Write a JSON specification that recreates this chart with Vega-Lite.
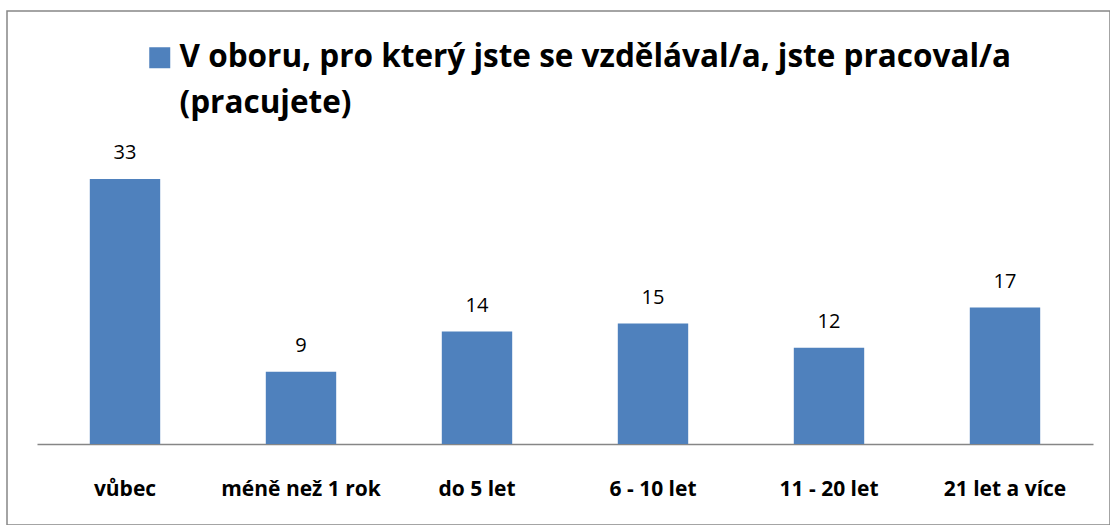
{
  "$schema": "https://vega.github.io/schema/vega-lite/v6.json",
  "width": 1103,
  "height": 514,
  "autosize": {"type": "none"},
  "padding": {"left": 7, "top": 11, "right": 0, "bottom": 0},
  "background": "white",
  "config": {
    "font": "Open Sans",
    "view": {"stroke": "#868686", "strokeWidth": 1.5},
    "style": {"guide-label": {"lineHeight": 46}}
  },
  "data": {
    "values": [
      {"category": "vůbec", "value": 33, "series": "V oboru, pro který jste se vzdělával/a, jste pracoval/a (pracujete)"},
      {"category": "méně než 1 rok", "value": 9, "series": "V oboru, pro který jste se vzdělával/a, jste pracoval/a (pracujete)"},
      {"category": "do 5 let", "value": 14, "series": "V oboru, pro který jste se vzdělával/a, jste pracoval/a (pracujete)"},
      {"category": "6 - 10 let", "value": 15, "series": "V oboru, pro který jste se vzdělával/a, jste pracoval/a (pracujete)"},
      {"category": "11 - 20 let", "value": 12, "series": "V oboru, pro který jste se vzdělával/a, jste pracoval/a (pracujete)"},
      {"category": "21 let a více", "value": 17, "series": "V oboru, pro který jste se vzdělával/a, jste pracoval/a (pracujete)"}
    ]
  },
  "encoding": {
    "x": {
      "field": "category",
      "type": "nominal",
      "sort": null,
      "scale": {"range": [30, 1086], "paddingInner": 0.6, "paddingOuter": 0.3},
      "axis": {
        "title": null,
        "orient": "bottom",
        "offset": -81,
        "domainColor": "#868686",
        "domainWidth": 1.5,
        "ticks": false,
        "grid": false,
        "labelAngle": 0,
        "labelFont": "Open Sans",
        "labelFontSize": 21,
        "labelFontWeight": "bold",
        "labelColor": "#000000",
        "labelPadding": 51,
        "labelBaseline": "alphabetic"
      }
    },
    "y": {
      "field": "value",
      "type": "quantitative",
      "scale": {"domain": [0, 35], "range": [433, 152]},
      "axis": null
    }
  },
  "layer": [
    {
      "mark": {"type": "bar", "color": "#4F81BD"},
      "encoding": {
        "color": {
          "field": "series",
          "type": "nominal",
          "scale": {"range": ["#4F81BD"]},
          "legend": {
            "orient": "none",
            "legendX": 137,
            "legendY": 31,
            "title": null,
            "symbolType": "square",
            "symbolSize": 441,
            "symbolStrokeWidth": 0,
            "symbolFillColor": "#4F81BD",
            "labelFont": "Open Sans",
            "labelFontSize": 31.5,
            "labelFontWeight": "bold",
            "labelColor": "#000000",
            "labelLimit": 0,
            "labelOffset": 4,
            "labelExpr": "['V oboru, pro který jste se vzdělával/a, jste pracoval/a', '(pracujete)']"
          }
        }
      }
    },
    {
      "mark": {"type": "text", "dy": -20, "baseline": "alphabetic", "fontSize": 20, "font": "Open Sans", "color": "#000000"},
      "encoding": {"text": {"field": "value", "type": "quantitative"}}
    }
  ]
}
